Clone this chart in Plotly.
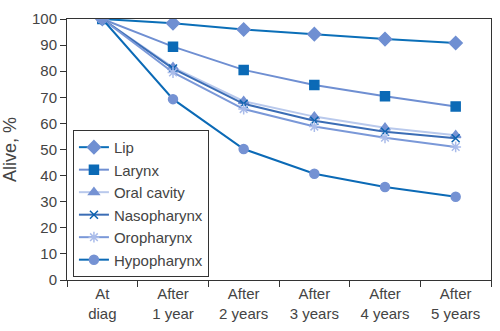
import plotly.graph_objects as go

categories = ["At<br>diag", "After<br>1 year", "After<br>2 years", "After<br>3 years", "After<br>4 years", "After<br>5 years"]
lip = [100, 98.4, 96.0, 94.2, 92.3, 90.8]
larynx = [100, 89.4, 80.5, 74.7, 70.4, 66.5]
oral_cavity = [100, 81.5, 68.5, 62.6, 58.3, 55.5]
nasopharynx = [100, 81.0, 67.5, 61.0, 56.8, 54.3]
oropharynx = [100, 79.5, 65.5, 58.8, 54.5, 51.0]
hypopharynx = [100, 69.3, 50.2, 40.7, 35.6, 31.9]
y_ticks = list(range(0, 101, 10))

series = [
    ("Lip", lip, "#0b6fb8", "#6f8fd2", "diamond", 10),
    ("Larynx", larynx, "#6f8fd2", "#0b6ab6", "square", 9),
    ("Oral cavity", oral_cavity, "#b9c9ec", "#7592d3", "triangle-up", 9),
    ("Nasopharynx", nasopharynx, "#3b6db5", "#0b63b0", "x-thin-open", 8),
    ("Oropharynx", oropharynx, "#7a98d8", "#aabcea", "asterisk-open", 9),
    ("Hypopharynx", hypopharynx, "#0b6ab6", "#7592d3", "circle", 9),
]

fig = go.Figure()
for i, (name, vals, lc, mc, sym, sz) in enumerate(series):
    fig.add_trace(go.Scatter(
        x=categories, y=vals, name=name, mode="lines+markers",
        legendgroup=f"g{i}",
        line=dict(color=lc, width=2),
        marker=dict(symbol=sym, size=sz, color=mc, line=dict(color=mc, width=1.5)),
    ))

fig.update_layout(
    width=500, height=331,
    margin=dict(l=67, r=9, t=19, b=51),
    plot_bgcolor="white", paper_bgcolor="white",
    font=dict(family="Liberation Sans, Arial, sans-serif", size=15, color="#444"),
    showlegend=True,
    legend=dict(
        x=0.014, y=0.575, xanchor="left", yanchor="top",
        bordercolor="#333", borderwidth=1, bgcolor="white",
        font=dict(size=15, color="#444"),
        tracegroupgap=0,
    ),
    xaxis=dict(
        type="category", showgrid=False, showline=True, linecolor="#333",
        linewidth=1, mirror=True, ticks="outside", ticklen=6, tickcolor="#333",
        tickson="boundaries", range=[-0.5, 5.5],
    ),
    yaxis=dict(
        range=[0, 100], tickvals=y_ticks, showgrid=False, showline=True,
        linecolor="#333", linewidth=1, mirror=True, ticks="outside", ticklen=6,
        tickcolor="#333", zeroline=False,
        title=dict(text="Alive, %", standoff=10),
    ),
)

fig.write_html("out.html")
